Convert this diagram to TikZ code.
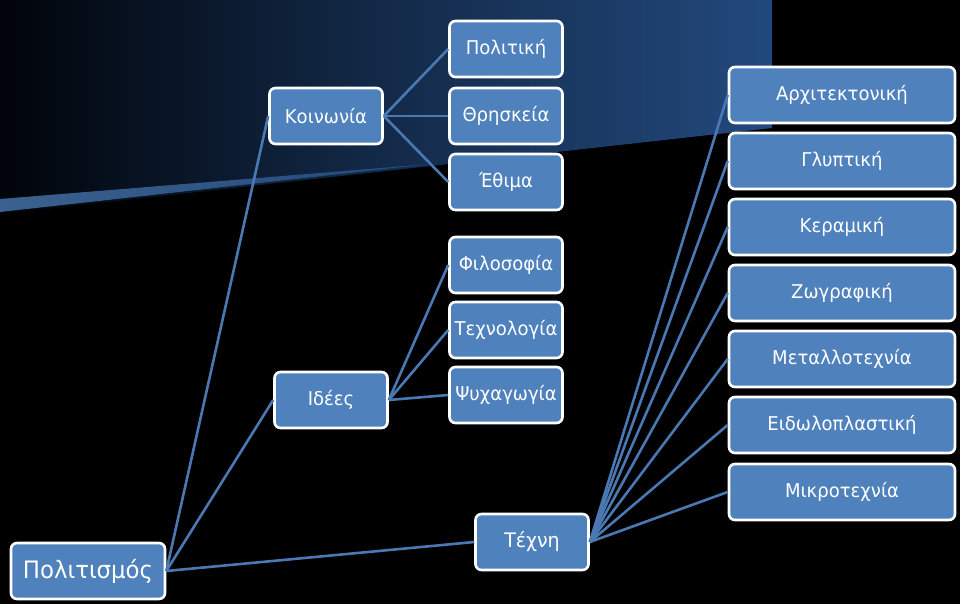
\documentclass[tikz,border=0pt]{standalone}
\usepackage{fontspec}
\setmainfont{DejaVu Sans}[FakeStretch=0.95]
\begin{document}
\begin{tikzpicture}[x=1pt,y=-1pt,
  box/.style={draw=white,line width=2.6pt,fill=boxblue,rounded corners=6pt,text=white,
    minimum height=56pt,inner sep=0pt,font=\fontsize{19}{21}\selectfont},
  conn/.style={draw=lineblue,line width=2.6pt}]
\definecolor{boxblue}{HTML}{4F81BD}
\definecolor{lineblue}{HTML}{4A78B2}
\definecolor{bgdark}{HTML}{01040A}
\definecolor{bgblue}{HTML}{22497D}
\useasboundingbox (0,0) rectangle (960,604);
\fill[black] (0,0) rectangle (960,604);
\shade[left color=bgdark,right color=bgblue,middle color=bgblue!55!bgdark] (0,0) -- (772,0) -- (772,128) -- (0,214) -- cycle;
\shade[left color=boxblue!75!black,right color=bgblue] (0,199) -- (430,164) -- (0,212) -- cycle;
% nodes
\node[box,minimum width=154pt,font=\fontsize{24}{26}\selectfont] (pol) at (88,571) {Πολιτισμός};
\node[box,minimum width=113pt] (koi) at (326,116) {Κοινωνία};
\node[box,minimum width=113pt] (ide) at (331,400) {Ιδέες};
\node[box,minimum width=113pt] (poli) at (506,49) {Πολιτική};
\node[box,minimum width=113pt] (thr) at (506,116) {Θρησκεία};
\node[box,minimum width=113pt] (eth) at (506,182) {Έθιμα};
\node[box,minimum width=113pt] (fil) at (506,265) {Φιλοσοφία};
\node[box,minimum width=113pt] (tex) at (506,330) {Τεχνολογία};
\node[box,minimum width=113pt] (psy) at (506,395) {Ψυχαγωγία};
\node[box,minimum width=113pt,font=\fontsize{20}{22}\selectfont] (tec) at (532,542) {Τέχνη};
\node[box,minimum width=226pt] (arx) at (842,95) {Αρχιτεκτονική};
\node[box,minimum width=226pt] (gly) at (842,161) {Γλυπτική};
\node[box,minimum width=226pt] (ker) at (842,227) {Κεραμική};
\node[box,minimum width=226pt] (zog) at (842,293) {Ζωγραφική};
\node[box,minimum width=226pt] (met) at (842,359) {Μεταλλοτεχνία};
\node[box,minimum width=226pt] (eid) at (842,425) {Ειδωλοπλαστική};
\node[box,minimum width=226pt] (mik) at (842,492) {Μικροτεχνία};
% connectors
\draw[conn] (pol.east) -- (koi.west);
\draw[conn] (pol.east) -- (ide.west);
\draw[conn] (pol.east) -- (tec.west);
\foreach \c in {poli,thr,eth} \draw[conn] (koi.east) -- (\c.west);
\foreach \c in {fil,tex,psy} \draw[conn] (ide.east) -- (\c.west);
\foreach \c in {arx,gly,ker,zog,met,eid,mik} \draw[conn] (tec.east) -- (\c.west);
\end{tikzpicture}
\end{document}
